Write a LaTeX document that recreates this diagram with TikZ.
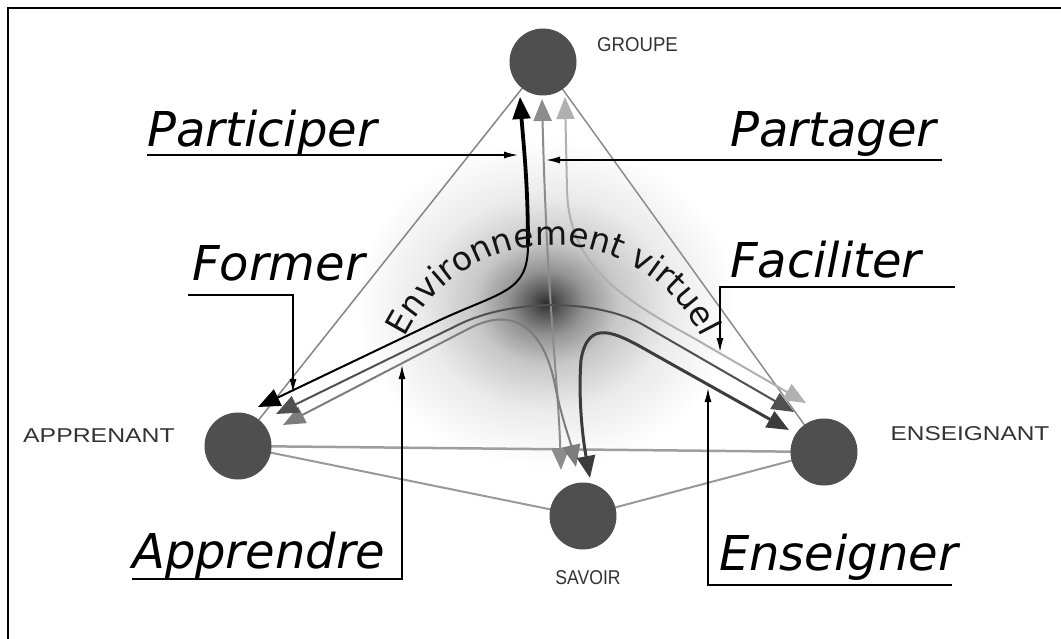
\documentclass[tikz,border=0pt]{standalone}
\usepackage{fontspec}
\setmainfont{Liberation Sans}
\newfontfamily\dvs{DejaVu Sans}
\usetikzlibrary{arrows.meta,decorations.text}
\definecolor{hubgray}{HTML}{4F4F4F}
\definecolor{labgray}{HTML}{333333}
\definecolor{flowA}{HTML}{8C8C8C}
\definecolor{flowB}{HTML}{B0B0B0}
\definecolor{flowC}{HTML}{505050}
\definecolor{flowD}{HTML}{7D7D7D}
\definecolor{flowE}{HTML}{3C3C3C}
\definecolor{sideA}{HTML}{999999}
\pgfdeclareradialshading{glow}{\pgfpoint{0bp}{0bp}}{color(0bp)=(black!82); color(1.5bp)=(black!66); color(4bp)=(black!42); color(7.5bp)=(black!22); color(13bp)=(black!8); color(20bp)=(white); color(25bp)=(white); color(50bp)=(white)}
\tikzset{
  hub/.style={circle, fill=hubgray, minimum size=67pt, inner sep=0pt},
  tag/.style={text=labgray, font=\fontsize{20}{21}\selectfont, inner sep=0pt},
  verb/.style={font=\dvs\itshape\fontsize{48}{50}\selectfont, inner sep=0pt, anchor=base west},
  lead/.style={line width=1.4pt, draw=black},
  leadtip/.style={-{Latex[length=14pt,width=7pt]}},
  sideline/.style={line width=2pt, draw=sideA},
  flow/.style={line width=2pt, {Triangle[length=22pt,width=18pt]}-{Triangle[length=22pt,width=18pt]}},
}
\begin{document}
\begin{tikzpicture}[x=1pt,y=-1pt]
\useasboundingbox (0,0) rectangle (1061,639);
\fill[white] (0,0) rectangle (1061,639);
% central glow
\shade[shading=glow] (546,303) ellipse [x radius=240pt, y radius=205pt];
% frame
\draw[line width=2.5pt] (8,639) -- (8,8) -- (1061,8);
% hubs (positions)
\coordinate (gc) at (543,62);
\coordinate (ac) at (238,446);
\coordinate (sc) at (583,516);
\coordinate (ec) at (824,452);
% triangle sides
\draw[sideline, line width=1.5pt, draw=black!48] (gc) -- (ac);
\draw[sideline, line width=1.5pt, draw=black!45] (gc) -- (ec);
\draw[sideline, line width=2.5pt, draw=black!38] (ac) -- (ec);
\draw[sideline] (ac) -- (sc);
\draw[sideline] (sc) -- (ec);
% flow tips
\coordinate (gA) at (520,97);
\coordinate (gS) at (542,99);
\coordinate (gE) at (565,97);
\coordinate (aG) at (258,407);
\coordinate (aE) at (276,414);
\coordinate (aS) at (283,425);
\coordinate (sG) at (561,470);
\coordinate (sA) at (576,467);
\coordinate (sE) at (590,478);
\coordinate (eG) at (806,403);
\coordinate (eA) at (794,412);
\coordinate (eS) at (789,430);
% flows
\draw[flow, draw=flowB] (gE) -- (567,190) .. controls (569,262) and (615,295) .. (690,336) -- (eG);
\draw[flow, draw=flowA] (gS) .. controls (547,300) and (558,380) .. (sG);
\draw[flow, draw=flowD] (aS) -- (470,328) .. controls (522,302) and (546,340) .. (555,385) .. controls (562,420) and (570,440) .. (sA);
\draw[flow, draw=flowC] (aE) -- (460,324) .. controls (510,300) and (590,298) .. (640,323) -- (eA);
\draw[flow, line width=3pt, draw=flowE] (eS) -- (650,352) .. controls (615,332) and (588,318) .. (581,360) .. controls (578,400) and (583,440) .. (sE);
\draw[flow, draw=black] (aG) -- (440,320) .. controls (503,291) and (528,292) .. (528,245) .. controls (528,180) and (523,140) .. (gA);
\draw[line width=3.8pt, shorten >=18pt] (528,245) .. controls (528,180) and (523,140) .. (gA);
% text on arc
\path[decorate, decoration={text along path, text align=center, text color=black!92,
  text={|\dvs\fontsize{33}{33}\selectfont|Environnement virtuel}}]
  (402.3,342.9) arc[start angle=156, end angle=24, radius=165pt];
% hub discs
\node[hub] (g) at (gc) {};
\node[hub] (a) at (ac) {};
\node[hub] (s) at (sc) {};
\node[hub] (e) at (ec) {};
% hub labels
\node[tag, anchor=west] (gl) at (597,45) {\scalebox{0.93}[1]{GROUPE}};
\node[tag] (al) at (99,436) {\scalebox{1.24}[1]{APPRENANT}};
\node[tag] (el) at (970,434) {\scalebox{1.22}[1]{ENSEIGNANT}};
\node[tag] (sl) at (588,578) {\scalebox{0.88}[1]{SAVOIR}};
% verbs
\node[verb] (vp) at (147,147) {Participer};
\node[verb] (vq) at (730,147) {Partager};
\node[verb] (vf) at (192,280) {Former};
\node[verb] (vc) at (730,278) {Faciliter};
\node[verb] (va) at (132,568) {Apprendre};
\node[verb] (ve) at (719,570) {Enseigner};
% leaders
\coordinate (p0) at (147,155); \coordinate (p1) at (518,155);
\draw[lead, leadtip] (p0) -- (p1);
\coordinate (q0) at (942,160); \coordinate (q1) at (546,160);
\draw[lead, leadtip] (q0) -- (q1);
\coordinate (f0) at (188,295); \coordinate (f1) at (293,295); \coordinate (f2) at (293,393);
\draw[lead, leadtip] (f0) -- (f1) -- (f2);
\coordinate (c0) at (955,287); \coordinate (c1) at (720,287); \coordinate (c2) at (720,352);
\draw[lead, leadtip] (c0) -- (c1) -- (c2);
\coordinate (r0) at (132,579); \coordinate (r1) at (402,579); \coordinate (r2) at (402,365);
\draw[lead, leadtip] (r0) -- (r1) -- (r2);
\coordinate (t0) at (952,585); \coordinate (t1) at (708,585); \coordinate (t2) at (708,388);
\draw[lead, leadtip] (t0) -- (t1) -- (t2);
\end{tikzpicture}
\end{document}
